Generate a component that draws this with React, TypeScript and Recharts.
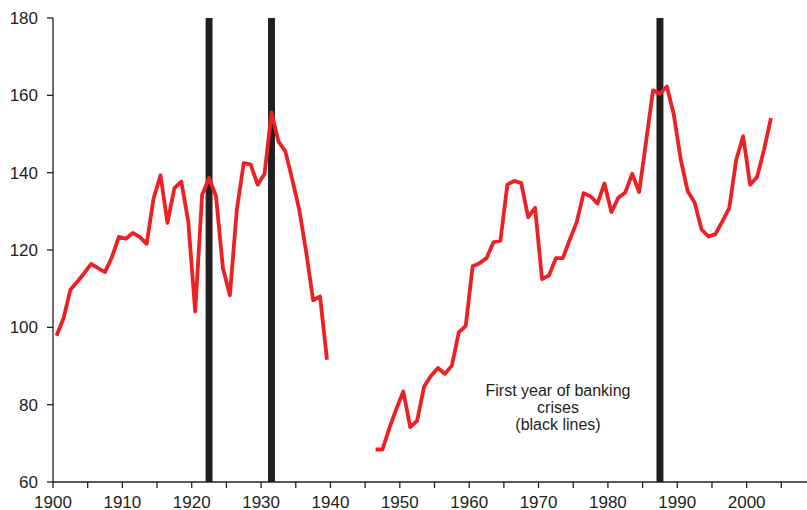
import { LineChart, Line, XAxis, YAxis, ReferenceArea } from "recharts";

// annual index, plotted at mid-year
const prewarYears = [
  1900, 1901, 1902, 1903, 1904, 1905, 1906, 1907, 1908, 1909,
  1910, 1911, 1912, 1913, 1914, 1915, 1916, 1917, 1918, 1919,
  1920, 1921, 1922, 1923, 1924, 1925, 1926, 1927, 1928, 1929,
  1930, 1931, 1932, 1933, 1934, 1935, 1936, 1937, 1938, 1939,
];
const prewarValues = [
  97.8, 102.2, 109.7, 111.8, 114, 116.4, 115.3, 114.3, 118.2, 123.4,
  122.9, 124.4, 123.4, 121.6, 133.3, 139.3, 127, 136, 137.7, 127.4,
  104.1, 134.3, 138.6, 133.9, 115.3, 108.3, 130.4, 142.5, 142.1, 136.9,
  139.7, 155.6, 148.1, 145.5, 138.2, 130.4, 119.5, 107, 108, 91.6,
];

const postwarYears = [
  1946, 1947, 1948, 1949, 1950, 1951, 1952, 1953, 1954, 1955,
  1956, 1957, 1958, 1959, 1960, 1961, 1962, 1963, 1964, 1965,
  1966, 1967, 1968, 1969, 1970, 1971, 1972, 1973, 1974, 1975,
  1976, 1977, 1978, 1979, 1980, 1981, 1982, 1983, 1984, 1985,
  1986, 1987, 1988, 1989, 1990, 1991, 1992, 1993, 1994, 1995,
  1996, 1997, 1998, 1999, 2000, 2001, 2002, 2003,
];
const postwarValues = [
  68.4, 68.4, 74, 78.9, 83.4, 74.2, 75.9, 84.7, 87.5, 89.5,
  88, 90.1, 98.7, 100.4, 115.8, 116.6, 117.9, 122, 122.4, 136.9,
  137.9, 137.3, 128.5, 130.9, 112.5, 113.4, 117.9, 117.9, 122.7, 127.2,
  134.7, 133.9, 132, 137.2, 129.8, 133.5, 134.9, 139.7, 135, 148,
  161.3, 160.4, 162.3, 155, 143.4, 135.2, 132.3, 125.3, 123.5, 124.1,
  127.4, 130.9, 143.4, 149.4, 136.9, 138.9, 145.9, 154.1,
];

const crisisYears = [1922, 1931, 1987];

const xTicks = [
  1900, 1905, 1910, 1915, 1920, 1925, 1930, 1935, 1940, 1945, 1950,
  1955, 1960, 1965, 1970, 1975, 1980, 1985, 1990, 1995, 2000, 2005,
];
const yTicks = [60, 80, 100, 120, 140, 160, 180];

const ink = "#231f20";
const red = "#ed2024";

const data = [
  ...prewarYears.map((y, i) => ({ x: y + 0.5, v: prewarValues[i] })),
  { x: 1942.5, v: null },
  ...postwarYears.map((y, i) => ({ x: y + 0.5, v: postwarValues[i] })),
];

export default function App() {
  return (
    <div
      style={{
        position: "absolute",
        left: 0,
        top: 0,
        width: 807,
        height: 510,
        fontFamily: "'Liberation Sans', Arial, sans-serif",
        background: "#fff",
      }}
    >
      <LineChart
        width={807}
        height={510}
        data={data}
        margin={{ top: 18, right: 0, bottom: 0, left: 8 }}
      >
        <XAxis
          dataKey="x"
          type="number"
          domain={[1900, 2008.7]}
          ticks={xTicks}
          allowDataOverflow
          interval={0}
          tickFormatter={(v: number) => (v % 10 === 0 ? String(v) : "")}
          height={28}
          tickSize={6}
          tickMargin={8}
          axisLine={{ stroke: ink, strokeWidth: 1.3 }}
          tickLine={{ stroke: ink, strokeWidth: 1.3 }}
          tick={{ fill: ink, fontSize: 17 }}
        />
        <YAxis
          type="number"
          domain={[60, 180]}
          ticks={yTicks}
          interval={0}
          width={45}
          tickSize={6}
          tickMargin={9}
          axisLine={{ stroke: ink, strokeWidth: 1.3 }}
          tickLine={{ stroke: ink, strokeWidth: 1.3 }}
          tick={{ fill: ink, fontSize: 17 }}
        />
        {crisisYears.map((y) => (
          <ReferenceArea
            key={y}
            x1={y}
            x2={y + 1}
            y1={60}
            y2={180}
            fill={ink}
            fillOpacity={1}
            stroke="none"
          />
        ))}
        <Line
          dataKey="v"
          type="linear"
          stroke={red}
          strokeWidth={3.8}
          dot={false}
          activeDot={false}
          connectNulls={false}
          strokeLinejoin="round"
          isAnimationActive={false}
        />
      </LineChart>
      <div
        style={{
          position: "absolute",
          left: 458,
          top: 382,
          width: 200,
          textAlign: "center",
          fontSize: 16,
          lineHeight: "17px",
          color: ink,
        }}
      >
        First year of banking
        <br />
        crises
        <br />
        (black lines)
      </div>
    </div>
  );
}
